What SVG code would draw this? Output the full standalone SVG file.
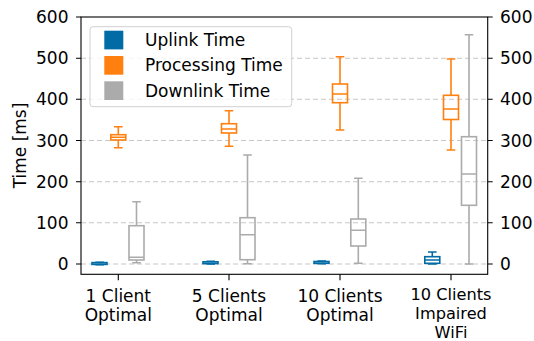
<svg xmlns="http://www.w3.org/2000/svg" width="534" height="341" viewBox="0 0 534 341">
<style>
text{font-family:"DejaVu Sans",sans-serif;font-size:17px;fill:#000}
.grid{stroke:#c8c8c8;stroke-width:1.1;stroke-dasharray:5,3;fill:none}
.spine{stroke:#000;stroke-width:1.1;fill:none}
.tick{stroke:#000;stroke-width:1.1}
.up{stroke:#006BA4;stroke-width:1.6;fill:none}
.pr{stroke:#FF800E;stroke-width:1.6;fill:none}
.dn{stroke:#ABABAB;stroke-width:1.6;fill:none}
.yl{text-anchor:end}
.xl{text-anchor:middle}
</style>
<rect width="534" height="341" fill="#fff"/>
<g id="grid">
<line class="grid" x1="81" y1="264" x2="487.7" y2="264"/>
<line class="grid" x1="81" y1="222.8" x2="487.7" y2="222.8"/>
<line class="grid" x1="81" y1="181.7" x2="487.7" y2="181.7"/>
<line class="grid" x1="81" y1="140.5" x2="487.7" y2="140.5"/>
<line class="grid" x1="81" y1="99.3" x2="487.7" y2="99.3"/>
<line class="grid" x1="81" y1="58.2" x2="487.7" y2="58.2"/>
</g>
<g id="connectors">
<g id="g1-uplink" class="up">
<path d="M95.4,262.3H104M95.4,264.8H104"/>
<rect x="92" y="262.6" width="15" height="1.8"/>
</g>
<g id="g1-processing" class="pr">
<path d="M118.3,126.7V134.7M118.3,140V147.7M114,126.7H122.6M114,147.7H122.6M110.8,137.3H125.8"/>
<rect x="110.8" y="134.7" width="15" height="5.3"/>
</g>
<g id="g1-downlink" class="dn">
<path d="M136.5,201.7V225.7M136.5,260V262.8M132.2,201.7H140.8M132.2,262.8H140.8M129,257.3H144"/>
<rect x="129" y="225.7" width="15" height="34.3"/>
</g>
<g id="g2-uplink" class="up">
<path d="M206.5,261.3H215M206.5,264H215"/>
<rect x="203" y="261.8" width="15" height="1.8"/>
</g>
<g id="g2-processing" class="pr">
<path d="M229,110.7V123.7M229,133V146.3M224.7,110.7H233.3M224.7,146.3H233.3M221.5,129H236.5"/>
<rect x="221.5" y="123.7" width="15" height="9.3"/>
</g>
<g id="g2-downlink" class="dn">
<path d="M247.5,155V217.7M247.5,259.7V263.7M243.2,155H251.8M243.2,263.7H251.8M240,234.7H255"/>
<rect x="240" y="217.7" width="15" height="42"/>
</g>
<g id="g3-uplink" class="up">
<path d="M317.5,261H326M317.5,263.8H326"/>
<rect x="314" y="261.5" width="15" height="1.8"/>
</g>
<g id="g3-processing" class="pr">
<path d="M340,56.7V84M340,102.7V130M335.7,56.7H344.3M335.7,130H344.3M332.5,94H347.5"/>
<rect x="332.5" y="84" width="15" height="18.7"/>
</g>
<g id="g3-downlink" class="dn">
<path d="M358.3,178.3V219M358.3,246V263.3M354,178.3H362.6M354,263.3H362.6M350.8,230.3H365.8"/>
<rect x="350.8" y="219" width="15" height="27"/>
</g>
<g id="g4-uplink" class="up">
<path d="M432.3,252V256.7M428,252H436.6M428,264H436.6M424.8,260H439.8"/>
<rect x="424.8" y="256.7" width="15" height="6.6"/>
</g>
<g id="g4-processing" class="pr">
<path d="M451,59V95.3M451,119.5V150M446.7,59H455.3M446.7,150H455.3M443.5,109H458.5"/>
<rect x="443.5" y="95.3" width="15" height="24.2"/>
</g>
<g id="g4-downlink" class="dn">
<path d="M469,34.7V136.7M469,205.3V264M464.7,34.7H473.3M464.7,264H473.3M461.5,174H476.5"/>
<rect x="461.5" y="136.7" width="15" height="68.6"/>
</g>
</g>
<g id="axes">
<rect class="spine" x="81" y="17" width="406.7" height="257.3"/>
<path class="tick" d="M76,264H81M76,222.8H81M76,181.7H81M76,140.5H81M76,99.3H81M76,58.2H81M76,17H81"/>
<path class="tick" d="M487.7,264H492.7M487.7,222.8H492.7M487.7,181.7H492.7M487.7,140.5H492.7M487.7,99.3H492.7M487.7,58.2H492.7M487.7,17H492.7"/>
<path class="tick" d="M118.3,274.3V280.3M229,274.3V280.3M340,274.3V280.3M451,274.3V280.3"/>
</g>
<g id="yticks-left">
<text class="yl" x="68.5" y="270">0</text>
<text class="yl" x="68.5" y="228.8">100</text>
<text class="yl" x="68.5" y="187.7">200</text>
<text class="yl" x="68.5" y="146.5">300</text>
<text class="yl" x="68.5" y="105.3">400</text>
<text class="yl" x="68.5" y="64.2">500</text>
<text class="yl" x="68.5" y="23">600</text>
</g>
<g id="yticks-right">
<text x="500" y="270">0</text>
<text x="500" y="228.8">100</text>
<text x="500" y="187.7">200</text>
<text x="500" y="146.5">300</text>
<text x="500" y="105.3">400</text>
<text x="500" y="64.2">500</text>
<text x="500" y="23">600</text>
</g>
<g id="ylabel">
<text class="xl" transform="translate(26,145.5) rotate(-90)">Time [ms]</text>
</g>
<g id="xticks">
<text class="xl" x="118.3" y="301.7">1 Client<tspan x="118.3" dy="19.3">Optimal</tspan></text>
<text class="xl" x="229" y="301.7">5 Clients<tspan x="229" dy="19.3">Optimal</tspan></text>
<text class="xl" x="340" y="301.7">10 Clients<tspan x="340" dy="19.3">Optimal</tspan></text>
<text class="xl" x="451" y="300" style="font-size:16.2px">10 Clients<tspan x="451" dy="19">Impaired</tspan><tspan x="451" dy="19">WiFi</tspan></text>
</g>
<g id="legend">
<rect x="90" y="26.7" width="201.7" height="80" rx="3" fill="#fff" fill-opacity="0.8" stroke="#d0d0d0" stroke-width="1"/>
<rect x="104.3" y="30.7" width="19" height="18.7" fill="#006BA4"/>
<rect x="104.3" y="56" width="19" height="18.7" fill="#FF800E"/>
<rect x="104.3" y="81.3" width="19" height="18.7" fill="#ABABAB"/>
<text x="145" y="46">Uplink Time</text>
<text x="145" y="71.3">Processing Time</text>
<text x="145" y="96.7">Downlink Time</text>
</g>
</svg>
